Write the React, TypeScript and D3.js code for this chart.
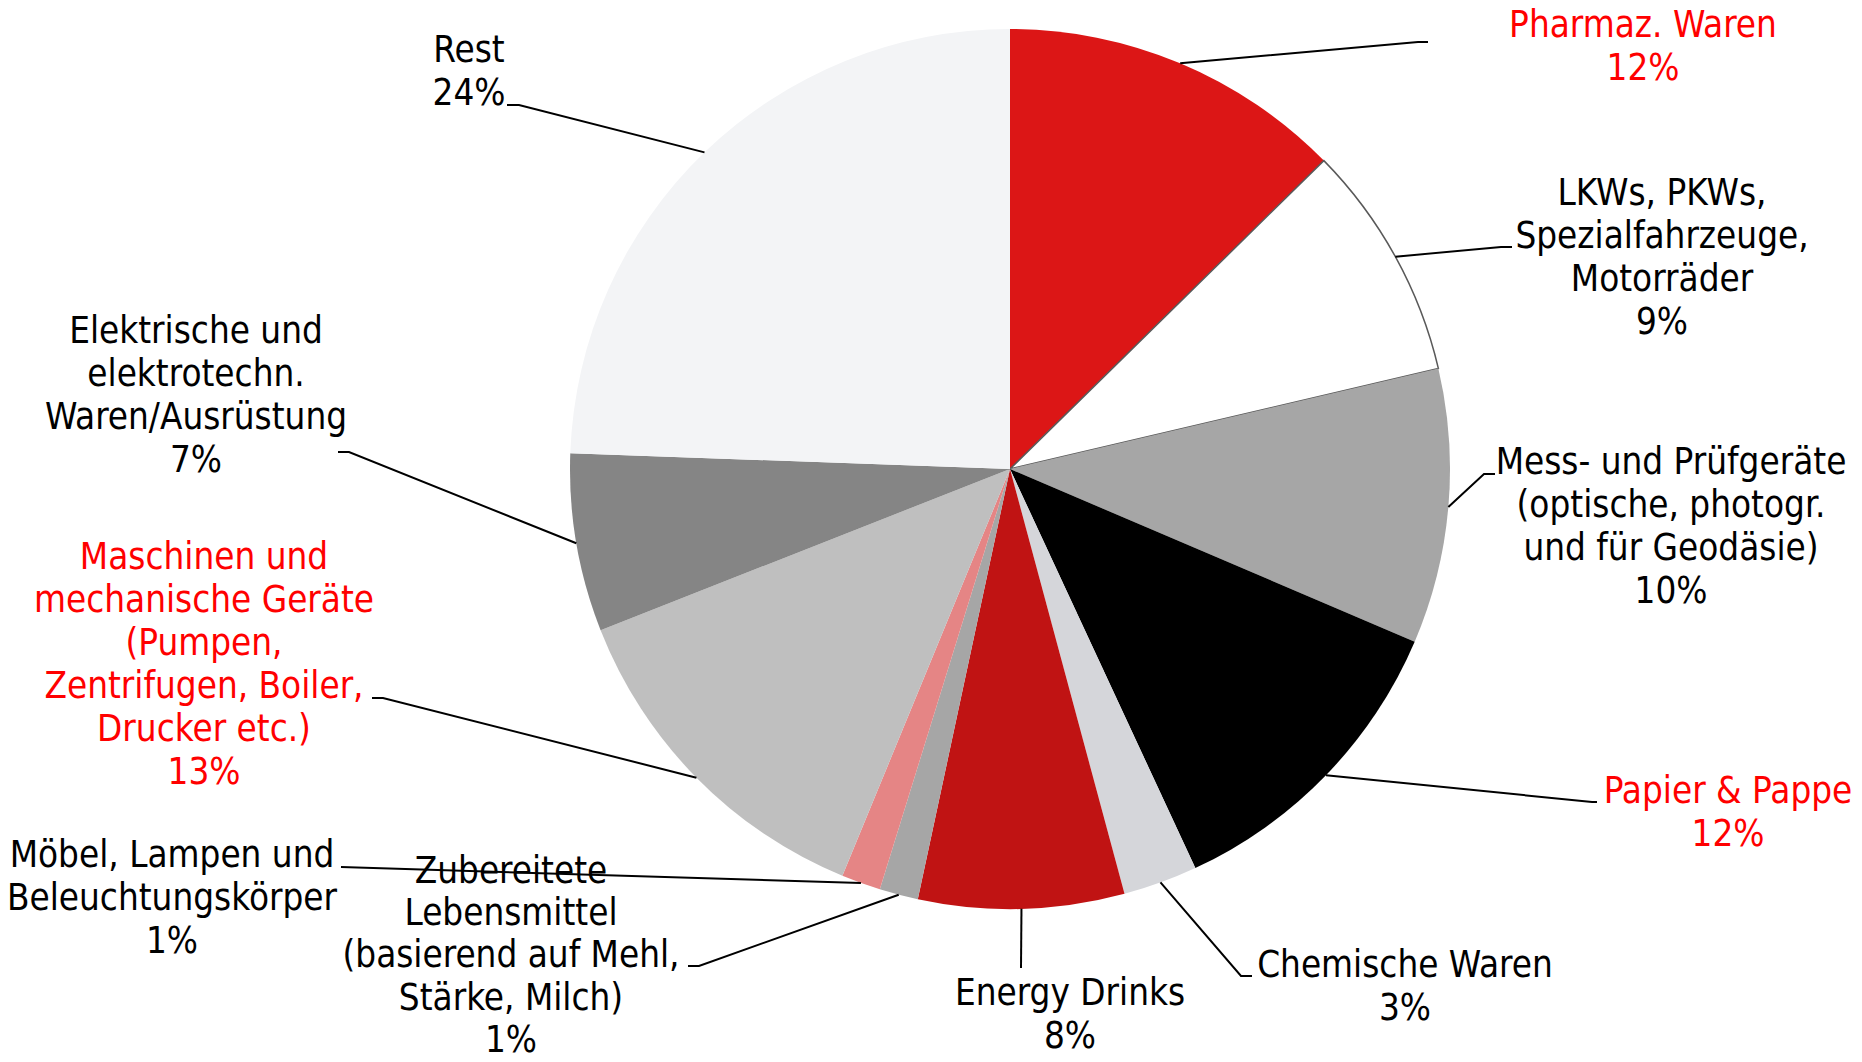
import React from "react";
import * as d3 from "d3";

const categories: string[][] = [
  ["Pharmaz. Waren"],
  ["LKWs, PKWs,", "Spezialfahrzeuge,", "Motorräder"],
  ["Mess- und Prüfgeräte", "(optische, photogr.", "und für Geodäsie)"],
  ["Papier & Pappe"],
  ["Chemische Waren"],
  ["Energy Drinks"],
  ["Zubereitete", "Lebensmittel", "(basierend auf Mehl,", "Stärke, Milch)"],
  ["Möbel, Lampen und", "Beleuchtungskörper"],
  ["Maschinen und", "mechanische Geräte", "(Pumpen,", "Zentrifugen, Boiler,", "Drucker etc.)"],
  ["Elektrische und", "elektrotechn.", "Waren/Ausrüstung"],
  ["Rest"],
];
const values: number[] = [12.64, 8.69, 10.09, 11.66, 2.73, 7.55, 1.42, 1.44, 12.81, 6.54, 24.43];
const percentLabels: string[] = ["12%", "9%", "10%", "12%", "3%", "8%", "1%", "1%", "13%", "7%", "24%"];
const highlighted: boolean[] = [true, false, false, true, false, false, false, false, true, false, false];

// styles
const sliceColors = ["#dc1616", "#ffffff", "#a6a6a6", "#000000", "#d5d6da", "#c01313", "#a6a6a6", "#e58585", "#bfbfbf", "#858585", "#f3f4f6"];
const sliceStroke = ["none", "#595959", "none", "none", "none", "none", "none", "none", "none", "none", "none"];

// layout: label center x, first baseline y, line height, leader bend points (from arc anchor outward)
const labelLayout = [
  { x: 1643, y: 37, lh: 43, leader: [[1418, 42], [1428, 42]] },
  { x: 1662, y: 205, lh: 43, leader: [[1501, 247], [1512, 247]] },
  { x: 1671, y: 474, lh: 43, leader: [[1484, 474], [1495, 474]] },
  { x: 1728, y: 803, lh: 43, leader: [[1592, 802], [1597, 802]] },
  { x: 1405, y: 977, lh: 43, leader: [[1241, 976], [1252, 976]] },
  { x: 1070, y: 1005, lh: 43, leader: [[1021, 968]] },
  { x: 511, y: 883, lh: 42.2, leader: [[699, 966], [688, 966]] },
  { x: 172, y: 867, lh: 43, leader: [[341, 867]] },
  { x: 204, y: 569, lh: 43, leader: [[383, 698], [372, 698]] },
  { x: 196, y: 343, lh: 43, leader: [[349, 452], [338, 452]] },
  { x: 469, y: 62, lh: 43, leader: [[519, 105], [507, 105]] },
];

const W = 1862;
const H = 1062;
const cx = 1010;
const cy = 469;
const R = 440;
const fontFamily = "'DejaVu Sans Condensed', 'DejaVu Sans', sans-serif";

export default function App() {
  const pie = d3.pie<number>().sort(null).value((d) => d).startAngle(0).endAngle(2 * Math.PI);
  const arcs = pie(values);
  const arcGen = d3.arc<d3.PieArcDatum<number>>().innerRadius(0).outerRadius(R);

  return (
    <div style={{ position: "fixed", left: 0, top: 0, width: W, height: H, background: "#fff" }}>
      <svg width={W} height={H} style={{ display: "block" }}>
        <g transform={`translate(${cx},${cy})`}>
          {arcs.map((a, i) => (
            <path
              key={i}
              d={arcGen(a) || ""}
              fill={sliceColors[i]}
              stroke={sliceStroke[i]}
              strokeWidth={sliceStroke[i] === "none" ? 0 : 1.5}
            />
          ))}
        </g>
        {arcs.map((a, i) => {
          const mid = (a.startAngle + a.endAngle) / 2;
          const ax = cx + Math.sin(mid) * R;
          const ay = cy - Math.cos(mid) * R;
          const pts = [[ax, ay], ...labelLayout[i].leader];
          const line = d3.line()(pts as [number, number][]);
          return <path key={"l" + i} d={line || ""} fill="none" stroke="#000" strokeWidth={2} />;
        })}
        {categories.map((lines, i) => {
          const lay = labelLayout[i];
          const all = [...lines, percentLabels[i]];
          return (
            <text
              key={"t" + i}
              x={lay.x}
              y={lay.y}
              textAnchor="middle"
              fontFamily={fontFamily}
              fontSize={36.5}
              style={{ fontStretch: "condensed" }}
              fill={highlighted[i] ? "#ff0000" : "#000000"}
            >
              {all.map((s, j) => (
                <tspan key={j} x={lay.x} y={lay.y + j * lay.lh}>
                  {s}
                </tspan>
              ))}
            </text>
          );
        })}
      </svg>
    </div>
  );
}
